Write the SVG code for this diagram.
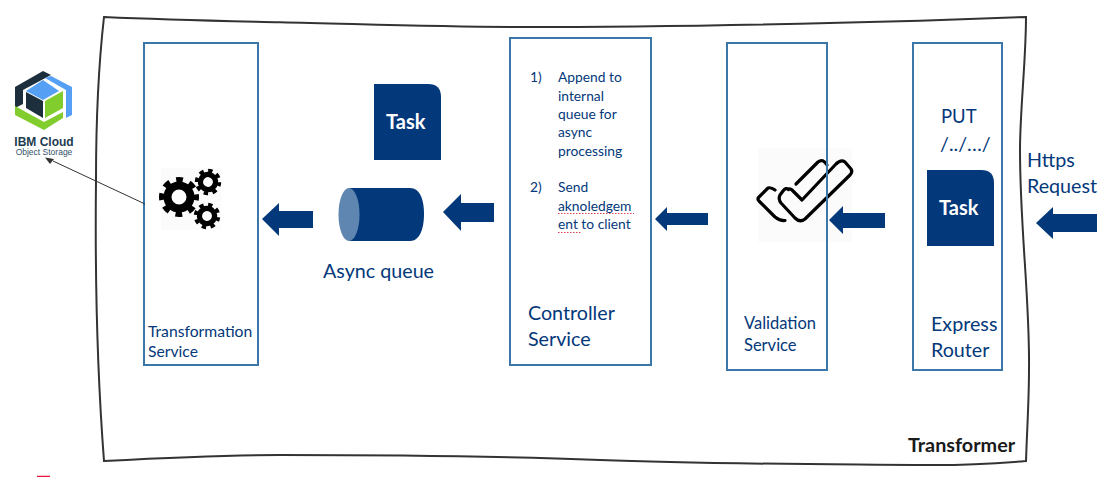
<svg xmlns="http://www.w3.org/2000/svg" width="1099" height="477" viewBox="0 0 1099 477">
<style>
text{font-family:"Lato","Carlito","Open Sans",sans-serif;fill:#03387a}
.box{fill:none;stroke:#3b77a8;stroke-width:2}
.blue{fill:#03387a}
.s{font-size:15.700px}
.v{font-size:16.500px}
.l{font-size:13.800px}
.m{font-size:19.700px}
.task{fill:#fff;font-size:20px;font-weight:700}
.ibm{font-family:"Liberation Sans",sans-serif}
.bg{fill:#fbfbfb}
.chk{fill:none;stroke:#000;stroke-width:3.200;stroke-linecap:round;stroke-linejoin:round}
</style>
<defs>
<path id="task" class="blue" d="M0 0H54Q67 0 67 13V76H0Z"/>
<g id="gear"><circle r="11.500" fill="none" stroke="#000" stroke-width="8"/><circle r="16" fill="none" stroke="#000" stroke-width="8" stroke-dasharray="6.300 6.266" stroke-dashoffset="3.150"/></g>
</defs>
<rect width="1099" height="477" fill="#fff"/>
<g id="frame"><path d="M104 17C170 20 225 21 280 22.300C360 24 440 27 520 27C660 27 800 24 920 20.700C960 19 1000 18 1026 17C1026 60 1020 110 1020 150C1020 230 1030 300 1029 370C1029 400 1027 430 1026 461C990 464 950 465.500 920 465C800 464 700 464 600 460C500 456 400 455 280 455C220 455 160 458 104 461C97 370 95 270 96 180C96 120 98 70 104 17Z" fill="#fff" stroke="#333" stroke-width="2"/></g>
<g id="transformation-service">
<rect class="bg" x="161" y="168" width="60" height="62"/>
<g id="gears"><use href="#gear" transform="translate(179 197)"/><use href="#gear" transform="translate(208 182) scale(.66) rotate(10)"/><use href="#gear" transform="translate(207 216) scale(.66) rotate(15)"/></g>
<rect class="box" x="144" y="43" width="114" height="322"/>
<text class="s" x="148" y="337">Transformation</text><text class="s" x="148" y="357">Service</text></g>
<g id="async-queue">
<path class="blue" d="M349 188H410C420 188 424 200 424 214C424 228 420 241 410 241H349Z"/>
<ellipse cx="349" cy="214.500" rx="10.500" ry="26.500" fill="#5f86b0"/>
<text class="m" x="323" y="278">Async queue</text></g>
<g id="queue-task"><use href="#task" x="374" y="84"/><text class="task" x="386" y="129">Task</text></g>
<g id="controller-service"><rect class="box" x="510" y="38" width="141" height="327"/>
<text class="l" x="530" y="82">1)</text><text class="l"><tspan x="558" y="82">Append to</tspan><tspan x="558" y="101">internal</tspan><tspan x="558" y="119">queue for</tspan><tspan x="558" y="137">async</tspan><tspan x="558" y="156">processing</tspan></text>
<text class="l" x="530" y="192">2)</text><text class="l"><tspan x="558" y="192">Send</tspan><tspan x="558" y="211">aknoledgem</tspan><tspan x="558" y="229">ent to client</tspan></text>
<path d="M558 213.500H634M558 232.500H582" fill="none" stroke="#e0405a" stroke-width="1" stroke-dasharray="1.500 1.500"/>
<text class="m" x="528" y="320">Controller</text><text class="m" x="528" y="346">Service</text></g>
<g id="validation-service">
<rect class="bg" x="758" y="148" width="94" height="94"/>
<g id="check"><path class="chk" d="M775 190Q771 187 768 188L759 197Q757 199 759 201L775 217Q780 221 785 220.500"/><path class="chk" d="M796 184L818 162Q823 158 827 165"/><path class="chk" d="M788.500 189.500Q786 187 783 191L780 195Q778 199 781 203L795 218Q800 223 805 219L850 175Q853 172 851 169L845 162Q841 159 836 164L802 200L792 190Q790 188 788.500 189.500Z"/></g>
<rect class="box" x="727" y="43" width="100" height="327"/>
<text class="v" x="744" y="329">Validation</text><text class="v" x="744" y="351">Service</text></g>
<g id="express-router"><rect class="box" x="913" y="43" width="89" height="327"/>
<text x="941" y="123" style="font-size:18.500px">PUT</text><text class="m" x="940" y="151">/../…/</text>
<use href="#task" x="927" y="170"/><text class="task" x="939" y="215">Task</text>
<text class="m" x="931" y="331">Express</text><text class="m" x="931" y="357">Router</text></g>
<g id="transformer-label"><text x="908" y="452" style="font-size:19.800px;font-weight:700;fill:#1a1a1a">Transformer</text></g>
<g id="ibm-cos">
<path d="M15 87L43 71L51 75L23 90V104L15 108Z" fill="#1d2f3c"/>
<path d="M51 76L72 87V115L66 118V90L45 78Z" fill="#55a0f5"/>
<path d="M26 91L43 80L59 91L43 100Z" fill="#55a0f5"/>
<path d="M26 92L43 101V118L26 108Z" fill="#1d2f3c"/>
<path d="M45 101L63 91V108L45 118Z" fill="#82cd2e"/>
<path d="M15 106L44 122L63 112V118L44 130L15 115Z" fill="#82cd2e"/>
<text class="ibm" x="44" y="146" text-anchor="middle" style="font-size:12px;font-weight:700;fill:#1d3c50">IBM Cloud</text>
<text class="ibm" x="44" y="155" text-anchor="middle" style="font-size:8.500px;fill:#34526a">Object Storage</text></g>
<g id="https-label"><text class="m" x="1027" y="167">Https</text><text class="m" x="1027" y="193">Request</text></g>
<g id="connectors">
<path class="blue" d="M262 219L279 203V211H313V228H279V236Z"/>
<path class="blue" d="M443 212L461 194V203H494V222H461V231Z"/>
<path class="blue" d="M655 219L667 207V213H708V225H667V231Z"/>
<path class="blue" d="M829 220L843 206V213H885V228H843V234Z"/>
<path class="blue" d="M1036 223L1053 207V214H1097V232H1053V239Z"/>
<path d="M145 204L53 161" stroke="#333" stroke-width="1" fill="none"/><path d="M45 157.500L54 159L50 164Z" fill="#333"/>
</g>
<path id="red-mark" d="M37 476.500H50" stroke="#e8143c" stroke-width="1.500"/>
</svg>
